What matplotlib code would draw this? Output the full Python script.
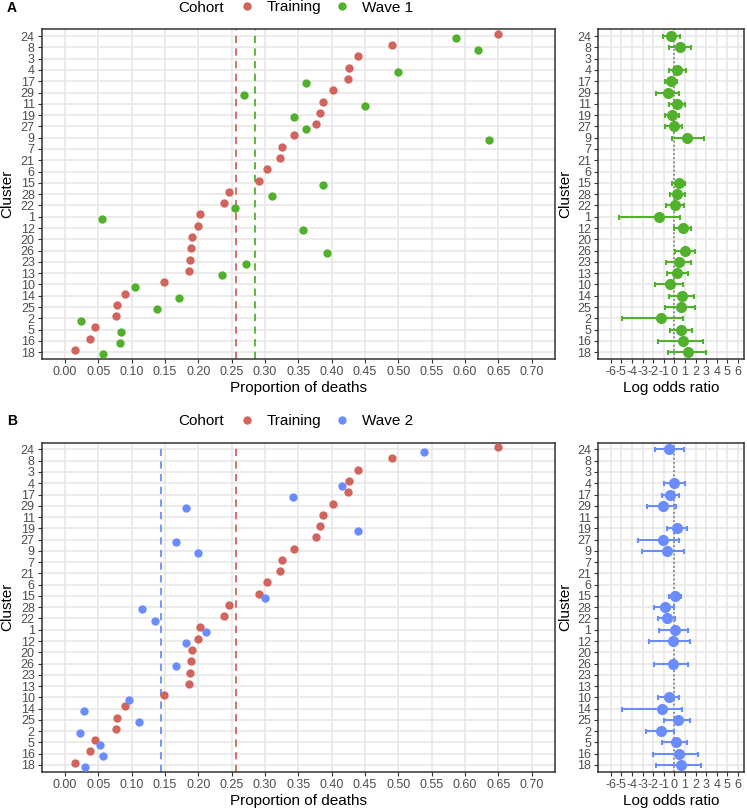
import numpy as np
import matplotlib.pyplot as plt
from matplotlib.lines import Line2D

plt.rcParams['font.family'] = ['Liberation Sans', 'DejaVu Sans']

nan = np.nan

# clusters, top to bottom
clusters = ['24', '8', '3', '4', '17', '29', '11', '19', '27', '9', '7', '21', '6', '15',
            '28', '22', '1', '12', '20', '26', '23', '13', '10', '14', '25', '2', '5', '16', '18']

# proportion of deaths
training = [0.649, 0.490, 0.440, 0.426, 0.425, 0.402, 0.387, 0.383, 0.377, 0.344, 0.326, 0.323,
            0.303, 0.291, 0.246, 0.238, 0.202, 0.200, 0.191, 0.189, 0.188, 0.186, 0.148, 0.090,
            0.078, 0.076, 0.045, 0.038, 0.015]
wave1 = [0.587, 0.619, nan, 0.500, 0.362, 0.269, 0.450, 0.344, 0.361, 0.636, nan, nan, nan,
         0.387, 0.311, 0.255, 0.055, 0.357, nan, 0.393, 0.272, 0.235, 0.105, 0.171, 0.138,
         0.024, 0.084, 0.083, 0.057]
wave2 = [0.538, nan, nan, 0.416, 0.342, 0.182, nan, 0.440, 0.166, 0.200, nan, nan, nan,
         0.300, 0.116, 0.135, 0.211, 0.182, nan, 0.167, nan, nan, 0.096, 0.029, 0.111,
         0.023, 0.053, 0.057, 0.030]

# overall proportions (dashed lines)
mean_training = 0.257
mean_wave1 = 0.285
mean_wave2 = 0.144

# log odds ratios with confidence intervals
wave1_lor = [-0.28, 0.53, nan, 0.28, -0.28, -0.63, 0.25, -0.19, -0.06, 1.19, nan, nan, nan,
             0.41, 0.28, 0.06, -1.47, 0.78, nan, 1.03, 0.47, 0.25, -0.44, 0.72, 0.63,
             -1.22, 0.66, 0.81, 1.31]
wave1_lo = [-1.06, -0.50, nan, -0.53, -0.85, -1.72, -0.47, -0.85, -0.91, -0.25, nan, nan, nan,
            -0.25, -0.44, -0.75, -5.23, 0.00, nan, 0.03, -0.75, -0.72, -1.85, -0.50, -0.88,
            -4.98, -0.44, -1.53, -0.60]
wave1_hi = [0.53, 1.60, nan, 1.10, 0.25, 0.44, 1.00, 0.47, 0.75, 2.82, nan, nan, nan,
            1.03, 1.00, 0.91, 0.50, 1.57, nan, 1.97, 1.60, 1.25, 0.81, 1.88, 1.94,
            0.78, 1.69, 2.72, 3.03]

wave2_lor = [-0.47, nan, nan, -0.03, -0.38, -1.10, nan, 0.25, -1.10, -0.72, nan, nan, nan,
             0.03, -0.91, -0.69, 0.03, -0.13, nan, -0.13, nan, nan, -0.50, -1.16, 0.38,
             -1.28, 0.16, 0.41, 0.66]
wave2_lo = [-1.82, nan, nan, -0.97, -1.16, -2.54, nan, -0.72, -3.38, -3.07, nan, nan, nan,
            -0.53, -1.91, -1.56, -1.47, -2.41, nan, -1.91, nan, nan, -1.53, -4.98, -0.97,
            -2.69, -1.13, -1.97, -1.69]
wave2_hi = [0.94, nan, nan, 0.97, 0.41, 0.16, nan, 1.19, 0.47, 0.94, nan, nan, nan,
            0.60, -0.03, 0.09, 1.31, 1.50, nan, 1.28, nan, nan, 0.41, 0.72, 1.44,
            -0.03, 1.22, 2.22, 2.50]

prop_ticks = np.round(np.arange(0, 0.701, 0.05), 2)
lor_ticks = np.arange(-6, 7)

RED = '#d1645c'
GREEN = '#52b12c'
BLUE = '#6b8cff'
GRID = '#e6e6e6'

W, H = 747, 811
fig = plt.figure(figsize=(W / 100, H / 100), dpi=100)


def box(l, t, r, b):
    return [l / W, 1 - b / H, (r - l) / W, (b - t) / H]


y = np.arange(len(clusters))[::-1]


def style(ax):
    for s in ax.spines.values():
        s.set_color('#333333')
        s.set_linewidth(1.1)
    ax.tick_params(axis='both', length=3, width=0.8, color='#333333',
                   labelsize=9, labelcolor='#4d4d4d', pad=2)
    ax.grid(True, color=GRID, linewidth=1.1)
    ax.set_axisbelow(True)
    ax.set_yticks(y)
    ax.set_yticklabels(clusters)
    ax.set_ylim(-0.6, len(clusters) - 0.4)


def prop_panel(ax, wave, wave_mean, col):
    style(ax)
    ax.scatter(training, y + 0.2, s=36, color=RED, zorder=3, linewidths=0)
    ax.scatter(wave, y - 0.2, s=36, color=col, zorder=3, linewidths=0)
    ax.axvline(mean_training, color=RED, linestyle=(0, (4, 3)), linewidth=1.3)
    ax.axvline(wave_mean, color=col, linestyle=(0, (4, 3)), linewidth=1.3)
    ax.set_xticks(prop_ticks)
    ax.set_xticklabels(['%.2f' % t for t in prop_ticks])
    ax.set_xlim(-0.035, 0.735)


def lor_panel(ax, lor, lo, hi, col):
    style(ax)
    lor = np.array(lor)
    err = [lor - np.array(lo), np.array(hi) - lor]
    ax.errorbar(lor, y, xerr=err, fmt='o', color=col, markersize=7,
                elinewidth=1.5, capsize=1.8, capthick=1.5, zorder=3)
    ax.axvline(0, color='#777777', linestyle=(0, (1, 1.5)), linewidth=1.2, zorder=2)
    ax.set_xticks(lor_ticks)
    ax.set_xticklabels([str(t) for t in lor_ticks])
    ax.set_xlim(-7.17, 6.6)


def legend(top, col, name):
    yy = 1 - top / H
    fig.text(178 / W, yy, 'Cohort', fontsize=11, ha='left', va='center')
    handles = [Line2D([], [], marker='o', linestyle='', color=RED, markersize=5),
               Line2D([], [], marker='o', linestyle='', color=col, markersize=5)]
    fig.legend(handles, ['Training', name], ncol=2, frameon=False, fontsize=11,
               loc='center left', bbox_to_anchor=(239 / W, yy), borderaxespad=0,
               borderpad=0, handlelength=1, handletextpad=0.8, columnspacing=0.88)


panels = [
    ('A', 29.3, 359, wave1, mean_wave1, GREEN, 'Wave 1', wave1_lor, wave1_lo, wave1_hi),
    ('B', 442.7, 771.7, wave2, mean_wave2, BLUE, 'Wave 2', wave2_lor, wave2_lo, wave2_hi),
]

for tag, top, bot, wave, wmean, col, name, lor, lo, hi in panels:
    ax1 = fig.add_axes(box(41.7, top, 555, bot))
    prop_panel(ax1, wave, wmean, col)
    ax2 = fig.add_axes(box(598.3, top, 744.3, bot))
    lor_panel(ax2, lor, lo, hi, col)

    mid = 1 - (top + bot) / 2 / H
    fig.text(7.5 / W, mid, 'Cluster', rotation=90, fontsize=11, ha='center', va='center')
    fig.text(565 / W, mid, 'Cluster', rotation=90, fontsize=11, ha='center', va='center')
    xl = 1 - (bot + 29) / H
    fig.text(298.4 / W, xl, 'Proportion of deaths', fontsize=11, ha='center', va='center')
    fig.text(671.3 / W, xl, 'Log odds ratio', fontsize=11, ha='center', va='center')

    legend(top - 21.8, col, name)
    fig.text(12 / W, 1 - (top - 21.8) / H, tag, fontsize=10, fontweight='bold',
             ha='center', va='center')

fig.savefig('out.png', dpi=100)
